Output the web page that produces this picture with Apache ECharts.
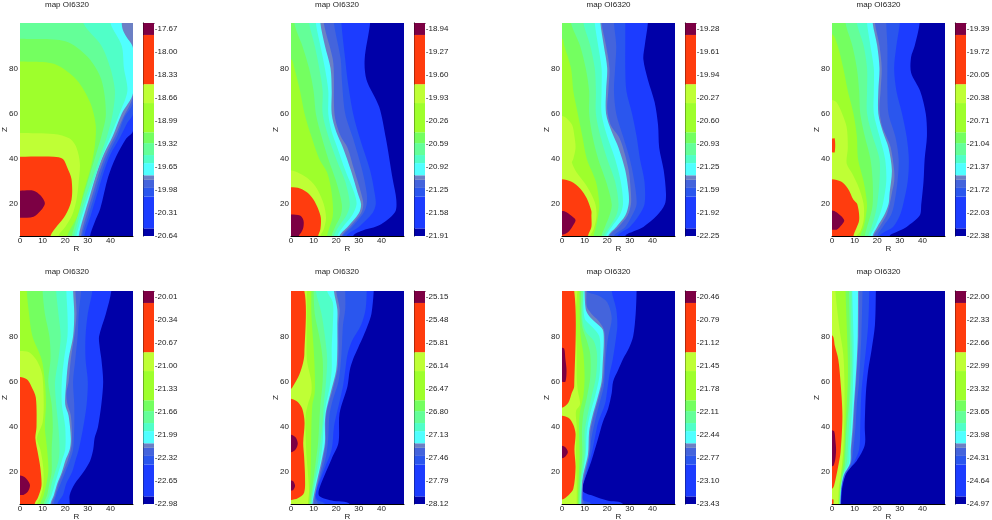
<!DOCTYPE html>
<html><head><meta charset="utf-8">
<style>html,body{margin:0;padding:0;background:#fff}#c{width:992px;height:520px}</style>
<script src="https://cdn.jsdelivr.net/npm/echarts@6/dist/echarts.min.js"></script></head>
<body><div id="c"></div>
<script>
const titleText = 'map OI6320';
const rTicks = [0,10,20,30,40];
const zTicks = [20,40,60,80];
const bandColors = ['#0000a8','#1c3cff','#2a56ee','#4464dc','#6c80c4','#50ffff','#50ffc8','#64ff98','#74ff60','#9eff2c','#bfff35','#ff3c0e','#7c0044'];
// colour bar: band edges in units of tick spacing from the bottom label
const barEdges = [0,0.33,1.71,2.09,2.44,2.64,3.17,3.52,4.04,4.51,5.78,6.6,8.74,9.26];
const barTicks = [0,1,2,3,4,5,6,7,8,9];
const labelsA = ['-20.64','-20.31','-19.98','-19.65','-19.32','-18.99','-18.66','-18.33','-18.00','-17.67'];
const labelsB = ['-21.91','-21.58','-21.25','-20.92','-20.59','-20.26','-19.93','-19.60','-19.27','-18.94'];
const labelsC = ['-22.25','-21.92','-21.59','-21.25','-20.93','-20.60','-20.27','-19.94','-19.61','-19.28'];
const labelsD = ['-22.38','-22.03','-21.72','-21.37','-21.04','-20.71','-20.38','-20.05','-19.72','-19.39'];
const labelsE = ['-22.98','-22.65','-22.32','-21.99','-21.66','-21.33','-21.00','-20.67','-20.34','-20.01'];
const labelsF = ['-28.12','-27.79','-27.46','-27.13','-26.80','-26.47','-26.14','-25.81','-25.48','-25.15'];
const labelsG = ['-23.43','-23.10','-22.77','-22.44','-22.11','-21.78','-21.45','-21.12','-20.79','-20.46'];
const labelsH = ['-24.97','-24.64','-24.31','-23.98','-23.65','-23.32','-22.99','-22.66','-22.33','-22.00'];
// contours: [band, R,Z, R,Z, ...], each filled back to the R=0 axis
const contoursA = [
[0,50,6,50,100],
[1,31,6,33,12,35.5,18,39,32,42.5,41,47,49,50,52.5,50,100],
[2,28.5,6,31,14,34,24,37,34,40,42,44,49,47.5,56,50,60,50,100],
[3,27.5,6,30,14,33,24,36,34,39,42,43,50,46,58,50,65,50,100],
[4,27,6,29,14,32,24,35,34,38,42,42,50,45.5,58,50,68,50,100],
[5,26,6,28,14,31,24,34,34,37,42,41,50,45,60,50,69,50,89,47,94,45.5,97,45,100],
[6,25,6,26,10,29,20,32.5,30,36,40,40,50,44,60,47.5,70,46,80,45,90,40,100],
[7,24,6,25,10,28,20,31.5,30,35,40,38.5,50,41,60,42,70,40,80,36,90,28,100],
[8,23,6,24,10,27,20,30,30,33,40,36,50,38,60,36,75,30,85,20,92,0,93],
[9,21,6,25.5,15,28,25,31,35,33,45,33.5,55,31,65,25,75,15,82,0,83],
[10,17,6,20,10,23,15,25,22,26,30,26.5,38,25,45,22,49,15,51,0,51.5],
[11,13.5,6,20,15,22.8,22,22.8,31,21,36,19,40,15,41,0,41],
[12,0,14,6,14.5,9,17,11,20.5,9,24,6,26,0,26]
];
const contoursB = [
[0,50,6,50,100],
[1,27.5,6,32,8.5,39,10.7,46,16.5,46.6,22,45,31,42,49,39,63,33.4,75,32.6,84,35,100],
[2,24.5,6,30,10,36,16,37.5,20,37,25,35,35,30.5,49,27.5,60,25,75,24,84,22.3,100],
[3,23,6,27,10,32,16,33.5,20,33.5,25,31.5,35,27.5,49,24,60,22.5,75,22,84,19,100],
[4,22.5,6,26,10,31,16,32,20,31,25,28,35,25,45,22,50,19.5,58,19,65,19,75,18.5,84,14.5,100],
[5,21.5,6,25,10,30,16,31,20,29.5,25,26.5,35,23,45,20,52,18,60,18,70,17.5,80,15,90,13,100],
[6,20.5,6,23,10,27,15,29,20,28,25,24,35,20.5,45,18,52,16.5,60,16.5,70,15,80,13,90,11,100],
[7,19,6,21,10,24.5,15,26,20,24,30,20,40,16.5,50,14,60,14,70,12.5,80,10.5,90,8,100],
[8,18,6,19.5,10,22,15,22.5,20,20,30,16.5,40,13.5,50,11,60,10,70,8,80,5,90,3,95,1.5,100],
[9,16,6,18.5,15,18,25,16,34,12.5,40,9,50,6,60,4,70,1.5,80,0,84],
[10,13,6,14.5,9,15.5,14,14.5,20,12,26,9,30,5,33,0,35],
[11,12,6,13,9,13.2,14,12,18,10,22,7.5,25,4,27,0,27.5],
[12,3.5,6,4.5,7.5,5.5,10,5.5,13,4,15,0,15.5]
];
const contoursC = [
[0,50,6,50,100],
[1,28,6,31.5,8,36,10,42,15,45.5,20,46,25,45,35,43,45,42.5,55,41,65,38,75,36,84,36.6,90,38,100],
[2,24.5,6,30,10,34,15,36.5,20,36.5,30,34.5,40,33,50,31,60,28.5,70,28,80,28,90,28,100],
[3,23,6,28,10,31,15,33,20,32,30,30,40,27,50,24,60,23,70,23.5,80,24,90,23,100],
[4,21,6,25,10,29,15,30.5,20,30.5,25,29.5,35,27,45,25,50,21.5,55,20,62,20.5,70,21,80,19.5,90,17.5,100],
[5,20.5,6,24,10,28,15,29.5,20,29.5,25,28,35,25,45,22,52,19.5,60,19.5,70,20,80,18.5,90,17,100],
[6,19.5,6,22,10,25.5,15,27,20,26,30,23.5,40,20,50,17.5,60,17.5,70,17.5,80,16,90,14.5,100],
[7,18.5,6,21,10,24,15,25,20,23.5,30,20,40,17,50,15,60,15,70,14.5,80,12.5,90,9.5,100],
[8,17.5,6,19,10,21,15,22,20,19.5,30,16,40,13.5,50,12,60,12,70,10.5,80,8,90,4,100],
[9,14,6,15,10,16,15,16.5,20,15,30,11,40,9,50,7,60,5,70,4,80,1,90,0,93],
[10,12.5,6,14,9,15.3,15,14.5,21,11,28,6.5,34,4.4,38.4,5,40,6,45,5.5,50,4.5,55,2,58,0,59],
[11,11.5,6,13,10,13,15,13,17,11,22.5,8,27,4,30,0,31],
[12,0,6.5,2.5,7.5,4.5,10,6,13,4,15,2,16.5,0,17]
];
const contoursD = [
[0,50,6,50,100],
[1,25.5,6,29,8,33,10,38.8,15,39.5,20,40.5,30,41,40,42,50,41.5,60,39,70,35,78,35,85,36.6,90,38.8,100],
[2,21,6,27,10,30,15,31.5,20,33.5,30,34,40,33,50,31,60,28.5,70,27.5,80,28.5,90,30,100],
[3,20,6,22.5,10,26,15,27.5,20,29,30,29.5,40,28,50,25,60,24.5,70,24.5,80,24.5,90,24,100],
[4,18.5,6,21,10,24,15,25.5,20,26.5,25,27.5,30,27.5,35,26,45,24,50,22,55,21,62,21.5,70,22,80,21,90,19,100],
[5,18,6,20,10,23,15,25,20,25.5,25,26.5,35,25,45,22.5,52,20.5,60,20.5,70,21,80,20,90,18,100],
[6,17,6,19,10,21,15,22.5,20,24,30,23.5,40,21,50,18.5,60,18.5,70,18.5,80,17,90,15.5,100],
[7,16,6,17.5,10,19,15,20,20,21,30,21,40,18,50,15.5,60,15.5,70,15.5,80,14,90,11,100],
[8,14.5,6,15.5,10,17,15,18,20,18,30,17,40,14.5,50,12.5,60,12,70,11,80,9,90,6,100],
[9,12.5,6,14,10,15,15,15.5,20,14,30,11.5,40,11,50,9.5,60,7,70,5,80,2.5,90,0,95],
[10,11,6,12.5,8,14,13,14,20,12,27,9,33.5,6.5,38,7,45,6.5,54,4.5,60,2,65,0,66],
[11,9.5,6,12,13,11.2,20,9.5,22,7,27,4,30,0,31],
[11,0,43,1.2,43,1.2,49,0,49],
[12,0,8.8,2,8.8,3.5,10,5.4,13,2,16.5,0,17.3]
];
const contoursE = [
[0,50,6,50,100],
[1,22,6,22,10,24.3,15,28,20,31,25,32.4,30,33,35,34.5,40,36,50,36.8,60,36,70,35.3,75,35,80,38,90,40.4,100],
[2,16.5,6,19,10,20.5,15,23,20,24.5,25,26,30,28,40,29.5,50,30,60,29,70,29,80,30,90,32,100],
[3,15,6,16,10,18,15,20,20,22,25,23.5,30,24,40,24,50,23.5,60,24.5,70,25.5,80,26,90,27,100],
[4,14,6,15.5,10,17,15,19,20,21,25,22.5,30,23,35,22.5,45,21,50,20.5,55,21.5,60,22.5,70,24,80,25,90,24.5,100],
[5,13.5,6,15,10,16.5,15,18.5,20,20,25,22,30,22.5,35,21.5,45,20,50,20.5,60,21.5,70,23.5,80,24,90,23.5,100],
[6,12.5,6,14,10,15.5,15,17,20,18.5,25,20,30,20,40,18.5,50,18.5,60,19.5,70,21,80,21,90,20.5,100],
[7,11.5,6,13,10,14,15,15.5,20,17,25,17.5,30,17,40,16,50,15.5,60,17,70,18,80,17,90,16,100],
[8,10.5,6,12,10,13,15,14,20,14,30,14.5,40,14,50,12.5,60,13.5,70,13,80,11,90,10,100],
[9,9,6,10.5,10,12.5,20,12,30,11,40,11.5,50,11,60,9.5,70,5.5,80,4,90,3,100],
[10,7.5,6,9,9,10.3,14,10.3,22,9,30,7.5,35,10,42,10.5,50,10,62,9,66,7,70,4,73,0,73.5],
[11,6.5,6,8,9,9.5,14,9,22,8,28,6.8,35,7.3,40,7,53,5,58,3,61,0,62],
[12,0,10,1.5,10,3.5,11.5,4.4,14.5,2.5,17.5,0,18.6]
];
const contoursF = [
[0,50,6,50,100],
[1,26,6,18,7.5,12.5,9.5,12.5,12.7,18,26,21,33,21.5,46,25,58,26,65,27.5,70,29.7,75,32,80,34,85,35.6,90,36.6,100],
[2,15,6,11.5,8,11,11,15,22,18,30,19,40,20.5,47,23,58,24,65,25,72,27,78,31,85,33,92,33.5,100],
[3,12,6,10.5,9,13,18,15.5,27,16.5,35,17,45,18.5,52,21,60,22,68,22.5,75,23,85,24,92,24,100],
[4,10,6,12,16,14,25,15.3,33,15.3,42,16,48,18,55,20.5,65,21,72,21,85,21.5,92,20,100],
[5,9.5,6,11,14,13.5,25,15,33,15,42,15.5,47,17.5,55,20,65,20.5,75,20.5,85,20.5,92,19,100],
[6,9.3,6,10.5,14,13,25,14,33,14.5,42,15.5,50,17,57,18,65,18,75,18.5,85,18.5,95,16,100],
[7,9,6,10,14,12,25,13,33,14,42,14.5,50,15.5,60,16,70,15,80,13.5,90,11,100],
[8,8.5,6,9.5,14,11,25,12,33,12.5,42,13,50,14,60,14,70,12.5,80,10.5,90,10,100],
[9,8,6,8.5,14,8.8,25,9,40,9.5,50,10.5,55,10.5,65,10,75,9,90,9,100],
[10,7.5,6,8,12,6.7,30,6.5,45,7.5,50,9,55,9,60,7,70,7,85,7,100],
[11,0,100,5.9,100,5.9,72,5,67,3.2,62,0.3,57,0,57],
[11,0,7.8,3,8.5,5.8,11,6.2,18,5.8,27,5.4,33,6,42,5,48,3,51,0,52.5],
[12,0,28.8,2,30,3,32.7,2,35.5,0,36.6],
[12,0,12,1,12.2,1.8,14,1,16,0,16.4]
];
const contoursG = [
[0,50,6,50,100],
[1,27,6,20,7.5,14,9.5,9.3,11.5,9.5,15,13,25,16,35,18,42,20.4,48,22,55,22.6,60,24.8,65,27,70,29.7,75,31.5,80,32.6,90,33,100],
[2,13,6,9,8,8.5,12,11,20,13.5,30,14.5,35,16,42,19,50,20,56,21,63,22.5,70,24,80,24.5,85,24,92,22,100],
[3,10,6,8.5,10,10.5,20,12.5,30,13,35,14.5,42,16.5,50,18.5,58,19,65,19.5,72,20.5,80,22,88,20,95,16,98,11,100],
[4,9,6,9.5,17,12,28,12.5,38,14,45,16,52,18,60,18.5,65,19,77,18.5,83,16,87,13,90,11,93,10.8,100],
[5,8.5,6,9,17,11.5,28,12,38,13.5,45,15.5,52,17.5,60,18,68,18.5,78,18,83,15,86,12,89,10.5,92,10,100],
[6,8.3,6,8.7,15,10.5,28,11,38,12.5,46,14.5,53,16.5,62,17,72,16.5,80,13.5,84,10,88,9.5,100],
[7,8,6,8.2,15,10,28,10,38,11.5,46,13,53,15,62,15.5,72,14,78,10.5,82,9,88,9.4,100],
[8,7.5,6,8,15,9,28,8.8,38,9.5,46,11,53,12.5,62,12.5,72,11,78,9,84,8.5,90,8.5,100],
[9,7,6,7.3,15,7.8,28,7.5,40,8,47,9.5,54,10,62,9.5,72,8.5,78,8,84,7.7,100],
[10,6.5,6,6.5,15,6.2,30,6.5,40,6.2,47,8,50,7,56,6.5,62,6.5,75,6,85,6,90,6.8,100],
[11,0,100,5.4,100,5.4,58,4.3,55,2.8,50.7,0,48.5],
[11,0,8,3,10,5,12.7,6,22,5.5,30,6,37,5,41,3,44,0,45],
[12,0,60,1.5,60,2,65,1.5,70,1,74.5,0,75],
[12,0,26.2,1.5,27,2.6,29,1.5,31,0,31.7]
];
const contoursH = [
[0,50,6,50,100],
[1,4,6,4.5,13,6.5,20,10.9,25,14.5,32,14.5,40,15,55,16,65,17.5,74,19,85,19.4,100],
[2,3.9,6,4.3,13,6,19,9.5,24,12,30,12.5,40,13,55,14,65,15,74,16,85,16.5,100],
[3,3.8,6,4.2,13,5.8,19,8.5,24,9.4,30,10.4,40,11,50,12,60,12.5,70,13,80,13.5,100],
[4,3.7,6,4.1,13,5.5,19,8.3,24,8.6,30,9.5,40,10,50,10.7,60,11.3,70,11.8,80,12,100],
[5,3.6,6,4,13,5.3,19,8,24,8.3,30,9.1,40,9.7,50,10.4,60,11,70,11.4,80,11.5,100],
[6,3.5,6,3.9,13,5,19,7.5,24,7.8,30,8.4,40,9,50,9.3,60,9.5,70,9.5,80,9,100],
[7,3.4,6,3.8,13,4.8,19,6.5,24,7,30,7.5,40,8,50,8.5,60,8.8,70,8.5,85,8.7,100],
[8,3.3,6,3.7,13,4.5,18,5.5,22,6,30,6.5,40,7.5,50,8,60,8,70,7.8,85,7.5,100],
[9,3,6,3.5,13,4,18,5,24,5.5,30,6,40,6.5,50,7,60,7,70,6.5,85,6,100],
[10,2.8,6,3,13,3.8,18,4.5,24,5,30,5.5,45,5.5,60,5,72,3.5,82,2.5,90,1.5,100],
[11,0,12.7,0.9,14,2.8,23,3.8,29,4.6,45,3.8,59.5,2.8,69.7,1.3,75.6,0,80.5],
[11,0,6,0.6,6,0.6,8,0,8],
[12,0,22.7,0.7,23,1.5,26,1.8,30,1.5,34,1,38,0,38.6]
];
const panels = [
 {c:contoursA,l:labelsA,x:20, cx:143.3,y:23,tx:45,ty:1},
 {c:contoursB,l:labelsB,x:291,cx:414.3,y:23,tx:315,ty:1},
 {c:contoursC,l:labelsC,x:562,cx:685.3,y:23,tx:586.5,ty:1},
 {c:contoursD,l:labelsD,x:832,cx:955.3,y:23,tx:856.5,ty:1},
 {c:contoursE,l:labelsE,x:20, cx:143.3,y:291,tx:45,ty:268},
 {c:contoursF,l:labelsF,x:291,cx:414.3,y:291,tx:315,ty:268},
 {c:contoursG,l:labelsG,x:562,cx:685.3,y:291,tx:586.5,ty:268},
 {c:contoursH,l:labelsH,x:832,cx:955.3,y:291,tx:856.5,ty:268}
];
const PW=113, PH=213, BW=10.7;
const font={fontFamily:'Liberation Sans',fontSize:8,color:'#222'};
const option={animation:false,backgroundColor:'#fff',title:[],grid:[],xAxis:[],yAxis:[],series:[]};
panels.forEach((p,i)=>{
  const top=p.y;
  option.title.push({text:titleText,left:p.tx,top:p.ty,padding:0,textStyle:{...font,fontWeight:'normal'}});
  const g=2*i, b=2*i+1;
  option.grid.push({left:p.x,top:top,width:PW,height:PH,show:false,outerBoundsMode:'none'});
  option.xAxis.push({type:'value',gridIndex:g,min:0,max:50,name:'R',nameLocation:'middle',nameGap:9,nameMoveOverlap:false,nameTextStyle:font,
    axisLine:{show:true,lineStyle:{color:'#000',width:1}},axisTick:{show:true,inside:true,length:1,customValues:rTicks,lineStyle:{color:'#000'}},
    axisLabel:{...font,margin:1,customValues:rTicks},splitLine:{show:false}});
  option.yAxis.push({type:'value',gridIndex:g,min:6,max:100,name:'Z',nameLocation:'middle',nameGap:11,nameMoveOverlap:false,nameRotate:90,nameTextStyle:font,
    axisLine:{show:false},axisTick:{show:false},axisLabel:{...font,margin:2,customValues:zTicks},splitLine:{show:false}});
  option.series.push({type:'custom',xAxisIndex:g,yAxisIndex:g,clip:true,silent:true,
    data:p.c.map(c=>[c[1],c[2],c[0]]),
    renderItem:(params,api)=>{
      const c=p.c[params.dataIndex], pts=[];
      const n=c.length;
      if(c[2]<=6) pts.push(api.coord([c[1],c[2]-8]));
      for(let k=1;k<n;k+=2) pts.push(api.coord([c[k],c[k+1]]));
      const lastZ=c[n-1]>=100?c[n-1]+8:c[n-1], firstZ=c[2]<=6?c[2]-8:c[2];
      if(c[n-1]>=100) pts.push(api.coord([c[n-2],lastZ]));
      pts.push(api.coord([-8,lastZ]));
      pts.push(api.coord([-8,firstZ]));
      return {type:'polygon',shape:{points:pts,smooth:c[0]===0?0:0.3},style:{fill:bandColors[c[0]],stroke:null}};
    }});
  option.grid.push({left:p.cx,top:top,width:BW,height:PH,show:false,outerBoundsMode:'none'});
  option.xAxis.push({type:'value',gridIndex:b,min:0,max:1,position:'top',axisLine:{show:true,onZero:false,lineStyle:{color:'#000',width:1}},axisTick:{show:false},axisLabel:{show:false},splitLine:{show:false}});
  option.yAxis.push({type:'value',gridIndex:b,min:0,max:9.26,position:'left',axisLine:{show:true,onZero:false,lineStyle:{color:'#000',width:1}},axisTick:{show:false},
    axisLabel:{...font,align:'left',margin:-11.5,customValues:barTicks,formatter:v=>p.l[Math.round(v)]},splitLine:{show:false}});
  option.series.push({type:'custom',xAxisIndex:b,yAxisIndex:b,clip:true,silent:true,
    data:bandColors.map((col,k)=>[barEdges[k],barEdges[k+1],k]),
    renderItem:(params,api)=>{
      const k=params.dataIndex;
      const a=api.coord([0,barEdges[k]]), c=api.coord([1,barEdges[k+1]]);
      return {type:'rect',shape:{x:a[0],y:c[1],width:c[0]-a[0],height:a[1]-c[1]},style:{fill:bandColors[k],stroke:null}};
    }});
});
echarts.init(document.getElementById('c'),null,{renderer:'canvas'}).setOption(option);
</script></body></html>
